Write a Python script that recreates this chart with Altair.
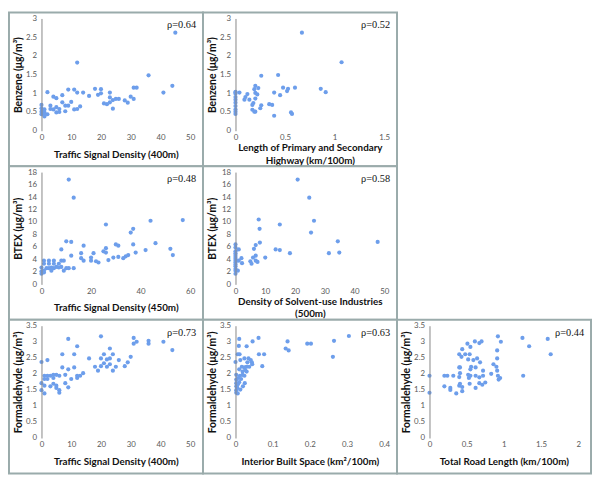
import altair as alt
import pandas as pd

# ---------------- data ----------------
p1_x = [45, 12, 36, 44, 41, 31, 32, 18, 20, 9, 11, 14, 12, 2, 7, 4, 5, 16, 19, 20,
        23, 23, 21, 22, 23, 24, 25, 26, 28, 29, 30, 31, 24, 10, 9, 8, 7, 8, 11, 12,
        13, 3, 3, 4, 5, 5, 6, 6, 2, 1, 1, 1, 1, 0, 0, 0, 0]
p1_y = [2.62, 1.82, 1.48, 1.20, 1.02, 1.15, 1.15, 1.12, 1.11, 1.10, 1.10, 1.02, 1.02, 1.03, 0.95,
        0.91, 0.87, 0.93, 0.96, 1.00, 1.02, 0.89, 0.73, 0.71, 0.76, 0.82, 0.85, 0.85, 0.81, 0.75,
        0.91, 0.85, 0.59, 0.77, 0.67, 0.67, 0.76, 0.52, 0.57, 0.58, 0.65, 0.67, 0.58, 0.57, 0.63,
        0.49, 0.50, 0.58, 0.44, 0.57, 0.49, 0.44, 0.38, 0.69, 0.60, 0.51, 0.44]

p2_x = [0.67, 1.07, 0.26, 0.43, 0.86, 0.91, 0.60, 0.48, 0.53, 0.52, 0.39, 0.45, 0.20, 0.23, 0.19,
        0.20, 0.22, 0.12, 0.04, 0.10, 0.09, 0.14, 0.20, 0.18, 0.17, 0.26, 0.25, 0.17, 0.20, 0.19,
        0.34, 0.37, 0.39, 0.56, 0.57, 0, 0, 0, 0, 0, 0, 0, 0, 0, 0]
p2_y = [2.62, 1.83, 1.47, 1.49, 1.12, 1.03, 1.15, 1.15, 1.12, 1.06, 1.02, 0.95, 1.20, 1.14, 1.11,
        1.01, 0.97, 0.98, 1.02, 0.90, 0.83, 0.83, 0.86, 0.74, 0.69, 0.68, 0.60, 0.56, 0.51, 0.51,
        0.71, 0.69, 0.40, 0.49, 0.45, 1.04, 0.99, 0.90, 0.83, 0.75, 0.66, 0.57, 0.51, 0.45, 1.02]

p3_x = [11, 13, 26, 44, 57, 37, 36, 46, 52, 53, 42, 38, 37, 30, 31, 35, 34, 33, 31, 29,
        27, 26, 26, 25, 22, 23, 21, 20, 20, 17, 16, 16, 17, 12, 12, 10, 8, 8, 9, 8,
        9, 10, 11, 13, 7, 6, 7, 5, 5, 5, 4, 4, 3, 3, 3, 2, 1, 1, 1, 1, 0, 0, 0]
p3_y = [16.8, 13.9, 9.6, 10.2, 10.3, 8.9, 8.3, 6.6, 5.7, 4.7, 5.5, 5.1, 6.4, 6.4, 6.2, 4.7, 4.5, 4.2, 4.4, 4.3,
        3.9, 5.8, 5.1, 5.3, 3.7, 3.5, 5.0, 4.3, 3.8, 6.2, 5.0, 4.2, 3.8, 4.6, 6.8, 6.9, 5.6, 3.8, 3.8, 2.8,
        2.2, 2.6, 2.6, 2.6, 3.3, 2.8, 2.7, 3.8, 3.3, 2.6, 2.2, 2.7, 3.8, 3.3, 2.6, 2.6, 3.8, 3.3, 2.2, 1.9,
        2.7, 2.1, 1.7]

p4_x = [20.9, 24.8, 26.4, 14.9, 7.8, 8.1, 25.4, 34.4, 47.8, 8.2, 6.8, 6.2, 1.1, 13.5, 14.9,
        18.3, 31.4, 34.9, 10.0, 6.8, 5.9, 6.8, 7.4, 5.0, 5.4, 2.0, 2.2, 1.1, 0.8,
        0, 0, 0, 0, 0, 0, 0, 0, 0, 0, 0, 0, 0, 0]
p4_y = [16.8, 13.9, 10.2, 9.6, 10.4, 8.9, 8.3, 6.9, 6.8, 6.7, 6.3, 5.7, 5.6, 5.6, 5.5,
        5.0, 5.0, 5.1, 4.3, 4.6, 4.3, 3.8, 3.6, 3.7, 3.3, 4.2, 3.4, 3.8, 2.2,
        6.4, 5.9, 5.3, 5.0, 4.7, 4.4, 4.1, 3.8, 3.5, 3.2, 2.9, 2.5, 2.2, 1.7]

p5_x = [20, 9, 31, 31, 32, 36, 36, 41, 44, 23, 21, 24, 12, 11, 7, 16, 20, 22, 23, 26,
        30, 29, 23, 21, 20, 18, 22, 25, 28, 19, 24, 2, 0, 11, 7, 9, 14, 13, 12, 12,
        10, 8, 8, 9, 6, 5, 4, 4, 4, 3, 3, 2, 2, 1, 1, 1, 1, 5, 5, 6, 6, 0, 0]
p5_y = [3.17, 3.09, 3.12, 2.94, 3.00, 3.03, 2.94, 3.00, 2.74, 2.79, 2.61, 2.61, 2.86, 2.61, 2.61,
        2.48, 2.48, 2.45, 2.48, 2.43, 2.53, 2.36, 2.30, 2.33, 2.24, 2.22, 2.22, 2.22, 2.24, 2.10,
        2.10, 2.43, 2.37, 2.20, 2.20, 2.14, 2.02, 1.94, 1.94, 1.87, 1.84, 1.97, 1.71, 1.58, 1.94,
        1.97, 1.97, 1.87, 1.69, 1.94, 1.61, 1.94, 1.84, 1.94, 1.84, 1.63, 1.39, 1.56, 1.63, 1.49,
        1.41, 1.71, 1.49]

p6_x = [0.305, 0.265, 0.193, 0.203, 0.140, 0.135, 0.143, 0.262, 0.062, 0.046, 0.010, 0.063, 0.077,
        0.072, 0.030, 0.006, 0.011, 0.009, 0.013, 0.024, 0.035, 0.041, 0.044, 0.045, 0.032, 0.030,
        0.017, 0.024, 0.037, 0.026, 0.030, 0.019, 0.010, 0.019, 0.024, 0.012, 0.002, 0.007, 0.015,
        0.002, 0.002, 0.002, 0.002, 0.002, 0.005, 0.007, 0.010, 0.013, 0.006, 0.020, 0.025, 0.000]
p6_y = [3.18, 3.03, 2.94, 2.94, 3.01, 2.79, 2.73, 2.53, 3.12, 3.01, 3.09, 2.61, 2.61,
        2.24, 2.86, 2.61, 2.61, 2.87, 2.43, 2.48, 2.48, 2.43, 2.36, 2.30, 2.36, 2.22,
        2.22, 2.20, 2.22, 2.12, 2.07, 2.07, 2.14, 1.97, 1.94, 1.94, 1.97, 1.87, 1.84,
        1.82, 1.71, 1.61, 1.49, 1.41, 1.56, 1.68, 1.74, 1.51, 1.39, 1.61, 1.71, 2.37]

p7_x = [0.92, 1.25, 1.59, 1.63, 1.34, 0.96, 0.70, 0.67, 0.61, 0.51, 0.55, 0.44, 0.48, 0.40, 0.54,
        0.43, 0.52, 0.59, 0.64, 0.68, 0.91, 0.91, 0.86, 0.90, 0.40, 0.41, 0.56, 0.62, 0.55, 0.72,
        0.91, 0.83, 0.41, 0.40, 0.52, 0.55, 0.53, 0.62, 0.67, 0.72, 0.92, 0.95, 0.93, 1.26, 0.32,
        0.20, 0.24, 0.00, 0.00, 0.20, 0.28, 0.28, 0.36, 0.44, 0.40, 0.44, 0.41, 0.54, 0.62, 0.67,
        0.71, 0.75]
p7_y = [3.17, 3.12, 3.09, 2.61, 2.86, 3.00, 3.01, 2.96, 3.01, 2.94, 2.84, 2.77, 2.61, 2.61, 2.61,
        2.53, 2.45, 2.43, 2.48, 2.36, 2.73, 2.48, 2.30, 2.22, 2.20, 2.20, 2.22, 2.20, 2.14, 2.10,
        2.10, 2.00, 2.02, 1.90, 1.97, 1.94, 1.87, 1.94, 1.89, 1.94, 1.94, 1.87, 1.82, 1.94, 1.94,
        1.94, 1.94, 1.94, 1.41, 1.61, 1.56, 1.50, 1.39, 1.46, 1.63, 1.59, 1.69, 1.69, 1.56, 1.71,
        1.66, 1.73]

rho_labels = ["ρ=0.64", "ρ=0.52", "ρ=0.48", "ρ=0.58", "ρ=0.73", "ρ=0.63", "ρ=0.44"]

ticks_0_50 = [0, 10, 20, 30, 40, 50]
ticks_0_60 = [0, 20, 40, 60]
ticks_0_15 = [0, 0.5, 1, 1.5]
ticks_0_04 = [0, 0.1, 0.2, 0.3, 0.4]
ticks_0_2 = [0, 0.5, 1, 1.5, 2]
ticks_y3 = [0, 0.5, 1, 1.5, 2, 2.5, 3]
ticks_y35 = [0, 0.5, 1, 1.5, 2, 2.5, 3, 3.5]
ticks_y18 = [0, 2, 4, 6, 8, 10, 12, 14, 16, 18]

# ---------------- layout ----------------
PW, PH = 151, 114           # plot area
L, R, T, B = 33, 13, 6, 36  # margins inside each bordered panel
BORDER = "#9aabab"
DOT = "#6d9eeb"
LABEL_FONT = "Lato"


def axis_x(title, values, multiline=False):
    return alt.Axis(values=values, title=title, format="~r", domain=False, ticks=False,
                    grid=False, labelFont=LABEL_FONT, labelFontSize=8, labelColor="#595959",
                    labelPadding=3, labelFlush=False, titleFont=LABEL_FONT, titleFontSize=10,
                    titleFontWeight="bold", titleColor="#111111", titleBaseline="middle",
                    titleY=17 if multiline else 24, titleLineHeight=13, zindex=1)


def axis_y(title, values):
    return alt.Axis(values=values, title=title, format="~r", domain=True, domainColor="#868686",
                    domainWidth=1, ticks=False, grid=False, labelFont=LABEL_FONT, labelFontSize=8,
                    labelColor="#595959", labelPadding=5, labelFlush=False, titleFont=LABEL_FONT,
                    titleFontSize=10.5, titleFontWeight="bold", titleColor="#111111",
                    titleBaseline="middle", titleX=-23, titleY=PH / 2, titleAngle=-90, zindex=1)


def panel(xs, ys, xtitle, ytitle, xdom, xticks, ydom, yticks, rho):
    df = pd.DataFrame({"x": xs, "y": ys})
    multiline = isinstance(xtitle, list)
    pts = alt.Chart(df).mark_circle(size=18, color=DOT, opacity=1).encode(
        x=alt.X("x:Q", scale=alt.Scale(domain=xdom, nice=False, zero=False),
                axis=axis_x(xtitle, xticks, multiline)),
        y=alt.Y("y:Q", scale=alt.Scale(domain=ydom, nice=False, zero=False),
                axis=axis_y(ytitle, yticks)),
    )
    frame = alt.Chart(pd.DataFrame({"k": [0]})).mark_rect(
        fill="white", fillOpacity=1, stroke=BORDER, strokeWidth=2
    ).encode(x=alt.value(-L), x2=alt.value(PW + R), y=alt.value(-T), y2=alt.value(PH + B))
    txt = alt.Chart(pd.DataFrame({"t": [rho]})).mark_text(
        align="right", baseline="middle", font="Liberation Serif", fontSize=10.5, color="#111111"
    ).encode(x=alt.value(PW + 6), y=alt.value(7), text="t:N")
    return alt.layer(frame, pts, txt).properties(width=PW, height=PH)


def blank():
    return alt.Chart(pd.DataFrame({"k": [0]})).mark_point(opacity=0).encode(
        x=alt.X("k:Q", axis=None), y=alt.Y("k:Q", axis=None)
    ).properties(width=PW, height=PH)


benz = "Benzene (μg/m³)"
btex = "BTEX (μg/m³)"
form = "Formaldehyde (μg/m³)"

c1 = panel(p1_x, p1_y, "Traffic Signal Density (400m)", benz, [0, 50], ticks_0_50, [0, 3], ticks_y3, rho_labels[0])
c2 = panel(p2_x, p2_y, ["Length of Primary and Secondary", "Highway (km/100m)"], benz, [0, 1.5], ticks_0_15, [0, 3], ticks_y3, rho_labels[1])
c3 = panel(p3_x, p3_y, "Traffic Signal Density (450m)", btex, [0, 60], ticks_0_60, [0, 18], ticks_y18, rho_labels[2])
c4 = panel(p4_x, p4_y, ["Density of Solvent-use Industries", "(500m)"], btex, [0, 50], ticks_0_50, [0, 18], ticks_y18, rho_labels[3])
c5 = panel(p5_x, p5_y, "Traffic Signal Density (400m)", form, [0, 50], ticks_0_50, [0, 3.5], ticks_y35, rho_labels[4])
c6 = panel(p6_x, p6_y, "Interior Built Space (km²/100m)", form, [0, 0.4], ticks_0_04, [0, 3.5], ticks_y35, rho_labels[5])
c7 = panel(p7_x, p7_y, "Total Road Length (km/100m)", form, [0, 2], ticks_0_2, [0, 3.5], ticks_y35, rho_labels[6])

chart = alt.concat(
    c1, c2, blank(), c3, c4, blank(), c5, c6, c7,
    columns=3, spacing={"row": T + B, "column": L + R}, bounds="flush"
).properties(padding=0, background="white").configure_view(stroke=None, strokeWidth=0)

chart.save("out.html", embed_options={"renderer": "svg", "actions": False})
